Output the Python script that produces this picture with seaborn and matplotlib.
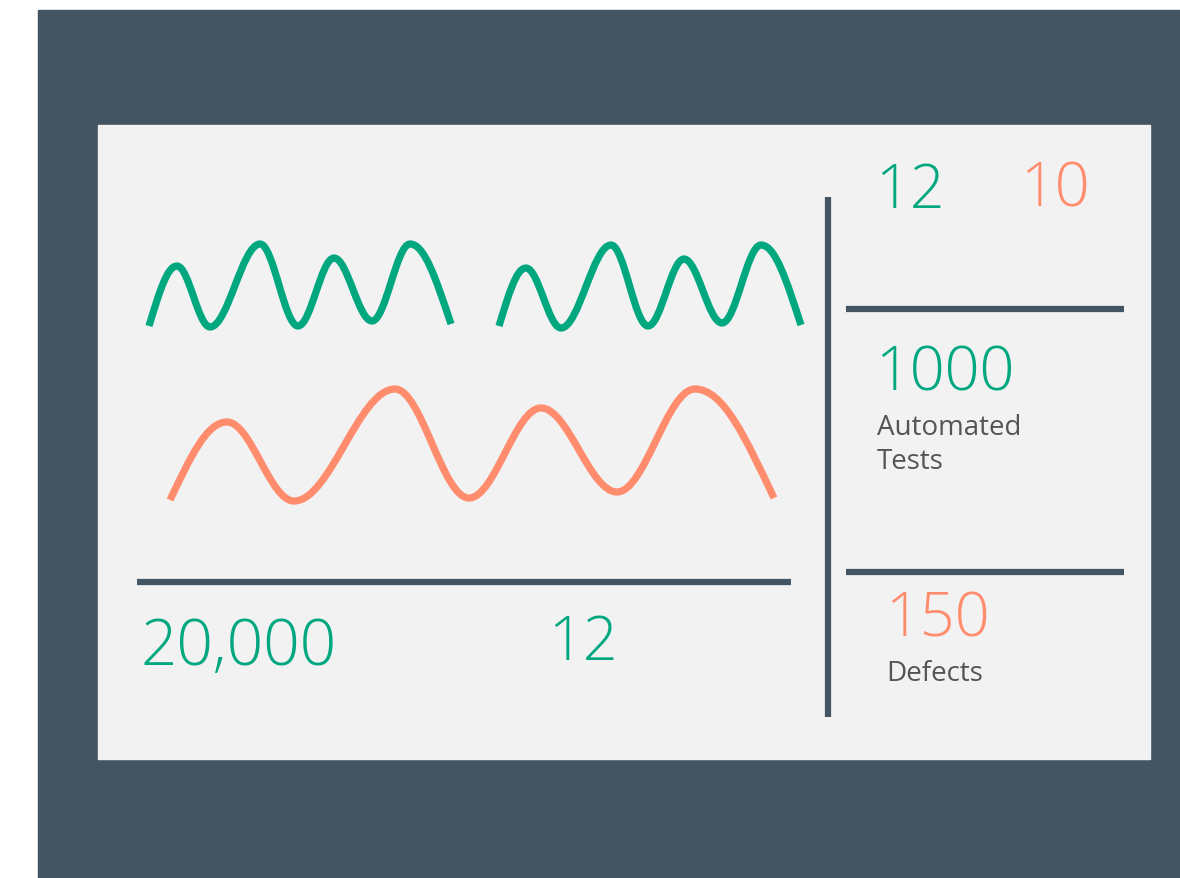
import matplotlib
matplotlib.use("Agg")
import matplotlib.pyplot as plt
import seaborn as sns
from matplotlib.path import Path
from matplotlib.patches import PathPatch, Rectangle

sns.set_theme(style="white")
plt.rcParams['font.family'] = ['Open Sans', 'DejaVu Sans']

# colours
DARK = '#435563'
PANEL = '#f2f2f2'
GREEN = '#00a77f'
ORANGE = '#ff8c6c'
GRAY = '#555555'

# wave extrema (pixel space of the card)
wave1_x = [149, 177, 210, 260, 298, 334, 372, 410, 451]
wave1_y = [327, 267, 328, 245, 327, 259, 322, 245, 325]
wave2_x = [499, 526, 561, 611, 648, 684, 722, 761, 801]
wave2_y = [327, 269, 329, 246, 327, 260, 324, 246, 326]
wave3_x = [170, 227, 294, 395, 469, 541, 617, 695, 774]
wave3_y = [501, 423, 502, 390, 499, 409, 493, 390, 499]

# kpi numbers
kpi_top = ['12', '10']
kpi_tests = '1000'
kpi_defects = '150'
kpi_bottom = ['20,000', '12']
label_tests = ['Automated', 'Tests']
label_defects = 'Defects'


def smooth_path(xs, ys, k=0.36):
    # cubic segments with flat tangents at the peaks/troughs
    verts = [(xs[0], ys[0])]
    codes = [Path.MOVETO]
    n = len(xs)
    for i in range(n - 1):
        dx = xs[i + 1] - xs[i]
        if i == 0:
            c1 = (xs[i] + k * dx, ys[i] + 0.55 * (ys[i + 1] - ys[i]))
        else:
            c1 = (xs[i] + k * dx, ys[i])
        if i == n - 2:
            c2 = (xs[i + 1] - k * dx, ys[i + 1] - 0.55 * (ys[i + 1] - ys[i]))
        else:
            c2 = (xs[i + 1] - k * dx, ys[i + 1])
        verts += [c1, c2, (xs[i + 1], ys[i + 1])]
        codes += [Path.CURVE4] * 3
    return Path(verts, codes)


fig = plt.figure(figsize=(11.8, 8.79), dpi=100)
fig.patch.set_facecolor('white')
ax = fig.add_axes([0, 0, 1, 1])
ax.set_xlim(0, 1180)
ax.set_ylim(879, 0)
ax.axis('off')

# card background and panel
ax.add_patch(Rectangle((38, 11), 1142, 868, color=DARK, zorder=0))
ax.add_patch(Rectangle((98, 126), 1052, 634, color=PANEL, zorder=1))

# waves
for xs, ys, col in [(wave1_x, wave1_y, GREEN), (wave2_x, wave2_y, GREEN),
                    (wave3_x, wave3_y, ORANGE)]:
    ax.add_patch(PathPatch(smooth_path(xs, ys), facecolor='none', edgecolor=col,
                           lw=5.2, capstyle='butt', joinstyle='round', zorder=3))

# separators
ax.plot([828, 828], [198, 718], color=DARK, lw=4.5, solid_capstyle='butt', zorder=2)
ax.plot([137, 791], [583, 583], color=DARK, lw=4.5, solid_capstyle='butt', zorder=2)
ax.plot([846, 1124], [310, 310], color=DARK, lw=4.5, solid_capstyle='butt', zorder=2)
ax.plot([846, 1124], [573, 573], color=DARK, lw=4.5, solid_capstyle='butt', zorder=2)

big = dict(fontweight='light', va='baseline', ha='left', zorder=4)
ax.text(875, 208, kpi_top[0], color=GREEN, fontsize=44, **big)
ax.text(1020, 207, kpi_top[1], color=ORANGE, fontsize=44, **big)
ax.text(875, 391, kpi_tests, color=GREEN, fontsize=44, **big)
ax.text(885, 637, kpi_defects, color=ORANGE, fontsize=44, **big)
ax.text(140, 665, kpi_bottom[0], color=GREEN, fontsize=46, **big)
ax.text(548, 660, kpi_bottom[1], color=GREEN, fontsize=44, **big)

small = dict(color=GRAY, fontsize=20, fontweight='normal', va='baseline', ha='left', zorder=4)
ax.text(877, 435, label_tests[0], **small)
ax.text(877, 469, label_tests[1], **small)
ax.text(886, 681, label_defects, **small)

fig.savefig('out.png', dpi=100)
plt.close(fig)
